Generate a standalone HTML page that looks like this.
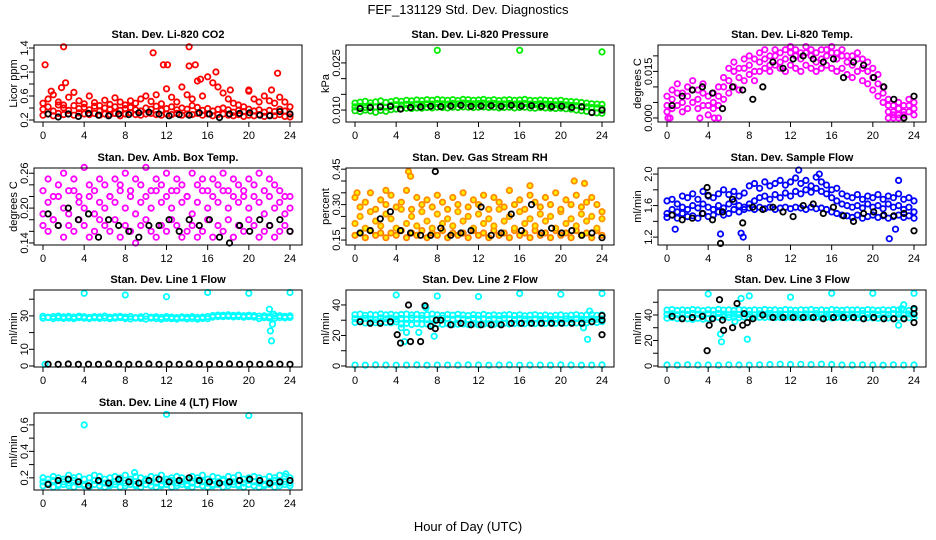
<!DOCTYPE html>
<html><head><meta charset="utf-8"><title>FEF_131129 Std. Dev. Diagnostics</title>
<style>
html,body{margin:0;padding:0;background:#fff;}
svg{display:block;font-family:"Liberation Sans",Arial,sans-serif;}
</style></head>
<body>
<svg id="chart" width="936" height="540" viewBox="0 0 936 540" xmlns="http://www.w3.org/2000/svg">
<text x="468" y="14" font-size="13" text-anchor="middle">FEF_131129  Std. Dev. Diagnostics</text>
<text x="468" y="531" font-size="13" text-anchor="middle">Hour of Day (UTC)</text>
</svg>
<script>
// ---- Panel 1: CO2 ----
const co2Mid=[0.38,0.42,0.35,0.45,0.40,0.36,0.44,0.39,0.41,0.37,0.43,0.35,0.40,0.38,0.42,0.36,0.39,0.41,0.37,0.35,0.40,0.38,0.43,0.36,0.39,0.42,0.37,0.40,0.38,0.44,0.41,0.36,0.39,0.35,0.38,0.40,0.37,0.33,0.36,0.34,0.38,0.35,0.37,0.33,0.36,0.34,0.38,0.35,0.30];
const co2Low=[0.28,0.30,0.27,0.31,0.29,0.30,0.28,0.32,0.30,0.29,0.31,0.28,0.30,0.29,0.31,0.27,0.30,0.32,0.29,0.28,0.30,0.31,0.29,0.28,0.30,0.29,0.31,0.28,0.30,0.29,0.31,0.28,0.30,0.27,0.29,0.30,0.28,0.27,0.29,0.26,0.28,0.27,0.29,0.26,0.28,0.27,0.29,0.26,0.25];
const co2High=[0.48,0.55,0.62,0.50,0.45,0.58,0.66,0.52,0.47,0.60,0.49,0.44,0.53,0.46,0.57,0.50,0.45,0.52,0.48,0.55,0.60,0.51,0.62,0.47,0.72,0.58,0.50,0.75,0.62,0.55,0.85,0.60,0.92,0.82,0.75,0.65,0.55,0.48,0.45,0.42,0.68,0.55,0.50,0.60,0.52,0.48,0.58,0.50,0.42];
const co2OutX=[0.2,2,2.2,1.8,0.8,10.7,11.7,12.1,14.2,14.2,14.8,16.8,22.8,15.3,18.2,20,22.2];
const co2OutY=[1.12,1.42,0.82,0.74,0.68,1.32,1.12,1.12,1.42,1.10,1.12,1.0,0.98,0.88,0.7,0.7,0.7];
const co2Black=[0.30,0.25,0.30,0.26,0.31,0.28,0.27,0.30,0.29,0.32,0.33,0.30,0.27,0.29,0.28,0.32,0.30,0.24,0.30,0.31,0.32,0.28,0.27,0.34,0.30];
// ---- Panel 2: Pressure ----
const presMid=[0.0110,0.0112,0.0108,0.0113,0.0110,0.0112,0.0109,0.0115,0.0117,0.0116,0.0118,0.0117,0.0119,0.0118,0.0120,0.0119,0.0121,0.0120,0.0119,0.0121,0.0120,0.0122,0.0121,0.0120,0.0121,0.0122,0.0120,0.0121,0.0119,0.0120,0.0121,0.0119,0.0120,0.0121,0.0119,0.0118,0.0120,0.0119,0.0118,0.0117,0.0118,0.0116,0.0115,0.0114,0.0112,0.0110,0.0108,0.0107,0.0105];
const presLow=[0.0098,0.0095,0.0100,0.0097,0.0093,0.0099,0.0096,0.0101,0.0103,0.0104,0.0106,0.0105,0.0107,0.0106,0.0108,0.0107,0.0109,0.0108,0.0107,0.0109,0.0108,0.0110,0.0109,0.0108,0.0109,0.0110,0.0108,0.0109,0.0107,0.0108,0.0109,0.0107,0.0108,0.0109,0.0107,0.0106,0.0108,0.0107,0.0106,0.0105,0.0106,0.0104,0.0103,0.0100,0.0098,0.0096,0.0093,0.0091,0.0090];
const presHigh=[0.0122,0.0125,0.0128,0.0123,0.0126,0.0129,0.0124,0.0127,0.0130,0.0128,0.0131,0.0129,0.0132,0.0130,0.0133,0.0131,0.0134,0.0132,0.0131,0.0133,0.0130,0.0134,0.0133,0.0131,0.0132,0.0134,0.0131,0.0133,0.0130,0.0132,0.0133,0.0131,0.0132,0.0134,0.0131,0.0130,0.0132,0.0131,0.0130,0.0129,0.0131,0.0128,0.0127,0.0126,0.0124,0.0122,0.0120,0.0119,0.0118];
const presOutX=[8,16,24];
const presOutY=[0.029,0.029,0.0285];
const presBlack=[0.0105,0.0108,0.0110,0.0112,0.0103,0.0108,0.0110,0.0112,0.0111,0.0113,0.0115,0.0112,0.0113,0.0114,0.0112,0.0115,0.0113,0.0114,0.0112,0.0111,0.0112,0.0108,0.0110,0.0092,0.0100];
// ---- Panel 3: Li-820 Temp ----
const tempMid=[0.004,0.006,0.008,0.005,0.007,0.009,0.006,0.008,0.004,0.005,0.007,0.010,0.012,0.015,0.013,0.016,0.017,0.015,0.018,0.019,0.017,0.020,0.018,0.019,0.021,0.020,0.019,0.021,0.020,0.018,0.019,0.020,0.021,0.019,0.020,0.018,0.017,0.019,0.016,0.015,0.013,0.011,0.008,0.004,0.002,0.003,0.002,0.004,0.003];
const tempLow=[0.002,0.003,0.004,0.002,0.003,0.005,0.003,0.004,0.001,0.003,0.004,0.006,0.008,0.010,0.009,0.012,0.014,0.012,0.015,0.016,0.015,0.017,0.016,0.015,0.017,0.016,0.015,0.017,0.016,0.015,0.016,0.017,0.016,0.015,0.016,0.014,0.013,0.015,0.012,0.011,0.009,0.007,0.005,0.002,0.001,0.001,0.001,0.002,0.001];
const tempHigh=[0.007,0.009,0.011,0.008,0.010,0.012,0.009,0.011,0.007,0.008,0.010,0.013,0.016,0.018,0.016,0.019,0.020,0.019,0.021,0.022,0.020,0.022,0.021,0.022,0.023,0.022,0.021,0.023,0.022,0.021,0.022,0.022,0.023,0.021,0.022,0.020,0.020,0.021,0.019,0.018,0.016,0.014,0.010,0.006,0.004,0.005,0.004,0.006,0.005];
const tempOutX=[0.1,0.3,3.2,4.6,5.0,21.5,22,22.5,23];
const tempOutY=[0,0,0,0,0,0,0,0,0];
const tempBlack=[0.004,0.007,0.009,0.010,0.008,0.003,0.010,0.009,0.006,0.010,0.018,0.016,0.019,0.020,0.019,0.018,0.019,0.013,0.018,0.017,0.013,0.010,0.006,0.000,0.007];
// ---- Panel 4: Amb Box Temp ----
const boxMid=[0.19,0.21,0.18,0.22,0.20,0.19,0.23,0.21,0.20,0.22,0.19,0.21,0.20,0.22,0.21,0.23,0.20,0.22,0.19,0.21,0.22,0.20,0.23,0.21,0.22,0.20,0.23,0.21,0.22,0.19,0.21,0.23,0.20,0.22,0.21,0.23,0.20,0.22,0.21,0.23,0.20,0.22,0.21,0.19,0.22,0.20,0.21,0.19,0.20];
const boxLow=[0.17,0.16,0.18,0.17,0.15,0.17,0.16,0.18,0.17,0.15,0.16,0.18,0.17,0.16,0.18,0.15,0.17,0.16,0.14,0.17,0.18,0.16,0.15,0.17,0.16,0.18,0.17,0.15,0.16,0.17,0.15,0.16,0.18,0.15,0.17,0.16,0.18,0.15,0.17,0.16,0.18,0.17,0.15,0.16,0.17,0.15,0.16,0.17,0.16];
const boxHigh=[0.23,0.25,0.22,0.24,0.26,0.23,0.25,0.22,0.27,0.24,0.23,0.25,0.24,0.22,0.25,0.24,0.26,0.23,0.25,0.24,0.27,0.23,0.25,0.24,0.26,0.23,0.25,0.24,0.22,0.26,0.24,0.25,0.23,0.25,0.24,0.26,0.23,0.25,0.24,0.22,0.25,0.24,0.26,0.23,0.25,0.24,0.23,0.22,0.22];
const boxBlack=[0.19,0.17,0.20,0.18,0.19,0.15,0.18,0.17,0.16,0.15,0.17,0.17,0.18,0.16,0.18,0.17,0.18,0.15,0.14,0.17,0.16,0.18,0.17,0.18,0.16];
// ---- Panel 5: Gas Stream RH ----
const rhMid=[0.22,0.25,0.20,0.27,0.23,0.21,0.26,0.24,0.20,0.28,0.22,0.25,0.21,0.27,0.23,0.20,0.26,0.22,0.24,0.21,0.27,0.23,0.25,0.20,0.26,0.22,0.24,0.21,0.28,0.23,0.25,0.20,0.27,0.22,0.24,0.21,0.26,0.23,0.25,0.20,0.27,0.22,0.24,0.21,0.26,0.23,0.25,0.20,0.24];
const rhLow=[0.17,0.18,0.16,0.19,0.17,0.18,0.16,0.18,0.17,0.19,0.16,0.18,0.17,0.19,0.16,0.18,0.17,0.19,0.16,0.18,0.17,0.18,0.16,0.19,0.17,0.18,0.16,0.19,0.17,0.18,0.16,0.19,0.17,0.18,0.16,0.19,0.17,0.18,0.16,0.19,0.17,0.18,0.16,0.19,0.17,0.18,0.16,0.19,0.17];
const rhHigh=[0.33,0.29,0.31,0.35,0.28,0.32,0.30,0.34,0.29,0.31,0.36,0.28,0.33,0.30,0.32,0.29,0.34,0.31,0.28,0.33,0.30,0.35,0.29,0.32,0.30,0.34,0.28,0.33,0.31,0.29,0.36,0.30,0.32,0.28,0.34,0.31,0.29,0.33,0.30,0.35,0.28,0.32,0.30,0.34,0.29,0.31,0.33,0.30,0.27];
const rhOutX=[5.2,5.4,21.3,22.3,17,0.2,3];
const rhOutY=[0.44,0.42,0.40,0.39,0.38,0.35,0.36];
const rhBlack=[0.18,0.19,0.24,0.27,0.19,0.18,0.17,0.17,0.20,0.17,0.18,0.19,0.29,0.17,0.18,0.26,0.19,0.30,0.18,0.20,0.18,0.19,0.17,0.18,0.16];
const rhBlackOutX=[7.8];
const rhBlackOutY=[0.44];
// ---- Panel 6: Sample Flow ----
const sfMid=[1.50,1.55,1.52,1.58,1.55,1.60,1.57,1.62,1.58,1.55,1.60,1.57,1.62,1.65,1.60,1.58,1.62,1.66,1.70,1.72,1.68,1.74,1.70,1.76,1.72,1.78,1.75,1.80,1.77,1.82,1.78,1.75,1.70,1.66,1.62,1.60,1.58,1.60,1.57,1.62,1.58,1.60,1.56,1.62,1.58,1.60,1.55,1.58,1.52];
const sfLow=[1.45,1.48,1.44,1.50,1.46,1.47,1.44,1.50,1.46,1.48,1.52,1.48,1.50,1.55,1.52,1.55,1.57,1.55,1.58,1.56,1.58,1.55,1.57,1.58,1.56,1.58,1.57,1.55,1.58,1.56,1.57,1.55,1.52,1.50,1.48,1.47,1.45,1.48,1.44,1.46,1.48,1.45,1.47,1.44,1.46,1.48,1.45,1.47,1.44];
const sfHigh=[1.66,1.68,1.62,1.72,1.70,1.75,1.68,1.78,1.72,1.70,1.75,1.80,1.74,1.78,1.72,1.76,1.85,1.88,1.82,1.90,1.85,1.88,1.92,1.86,1.90,1.95,1.88,1.92,1.85,1.96,1.90,1.86,1.80,1.82,1.75,1.72,1.70,1.74,1.68,1.72,1.70,1.74,1.68,1.72,1.70,1.75,1.68,1.70,1.66];
const sfOutX=[0.8,5.2,7.4,7.2,21.6,22.2,12.8,14.8,22.5];
const sfOutY=[1.3,1.24,1.2,1.25,1.18,1.3,2.05,2.0,1.92];
const sfBlack=[1.48,1.42,1.44,1.50,1.42,1.52,1.68,1.38,1.58,1.55,1.58,1.52,1.46,1.60,1.62,1.50,1.58,1.47,1.40,1.50,1.52,1.48,1.47,1.50,1.28];
const sfBlackOutX=[4,3.9,5.2];
const sfBlackOutY=[1.73,1.83,1.12];
// ---- Panel 7: Line 1 Flow ----
const l1High=[29.8,29.2,29.6,29.9,29.4,29.7,29.3,29.8,29.5,29.1,29.6,29.4,29.9,29.2,29.5,29.7,29.3,29.6,29.0,29.4,29.8,29.2,29.5,29.1,29.6,29.3,29.0,29.4,29.2,29.5,29.1,29.3,29.6,30.2,30.5,30.4,30.6,30.3,30.5,30.1,30.4,30.2,29.8,30.0,29.6,29.9,30.1,29.7,30.0];
const l1Low=[28.6,28.9,28.4,28.8,28.5,28.7,28.3,28.9,28.6,28.4,28.8,28.5,28.7,28.3,28.6,28.9,28.4,28.2,28.7,28.5,28.1,28.6,28.4,28.0,28.5,28.3,28.1,28.6,28.2,28.4,28.0,28.5,28.3,29.3,29.6,29.5,29.7,29.4,29.6,29.2,29.5,29.3,28.4,28.9,28.7,28.5,29.0,28.8,29.1];
const l1OutX=[0.2,4,8,12,16,20,24,22,22.1,22.2,22.3,22.4];
const l1OutY=[1.0,43.5,42.5,41.5,44,43.5,44,34,21,15,25,31];
const l1Black=[1.1,1.0,1.2,1.0,1.1,1.0,1.2,1.1,1.0,1.1,1.2,1.0,1.1,1.0,1.2,1.1,1.0,1.1,1.2,1.0,1.1,1.0,1.2,1.1,1.0];
// ---- Panel 8: Line 2 Flow ----
const l2Top=[33.6,34.0,33.2,33.8,33.4,34.1,33.5,33.9,33.3,33.7,34.0,33.4,33.8,33.2,33.6,34.0,33.5,33.1,33.7,33.3,33.9,33.4,33.0,33.6,33.2,33.8,33.1,33.5,33.0,33.4,33.7,33.1,33.5,32.9,33.3,33.6,33.0,33.4,32.8,33.2,33.5,32.9,33.3,33.6,33.0,33.4,33.7,33.2,33.5];
const l2Mid=[31.0,30.5,31.2,30.8,30.4,31.5,30.9,31.3,30.7,31.1,30.6,31.4,30.8,31.2,30.5,31.0,30.7,31.3,30.9,30.6,31.1,30.8,30.5,31.2,30.7,31.0,30.4,30.9,30.6,31.1,30.8,30.5,31.0,30.7,30.4,30.9,30.6,31.0,30.5,30.8,30.4,30.9,30.6,31.0,30.7,30.5,30.9,30.6,30.8];
const l2Low=[28.5,29.0,28.2,28.8,28.4,29.1,28.6,28.3,28.9,27.5,28.0,27.2,27.8,27.4,27.6,27.0,27.5,27.3,27.8,27.1,27.4,27.6,27.2,27.5,27.0,27.4,27.7,27.3,27.6,27.9,27.5,27.8,28.0,27.7,28.1,27.8,28.2,27.9,28.3,28.0,28.4,28.1,28.5,28.2,28.6,28.3,28.8,28.5,29.0];
const l2Floor=[0.6,0.5,0.7,0.6,0.5,0.6,0.7,0.5,0.6,0.6,0.5,0.7,0.6,0.5,0.6,0.7,0.5,0.6,0.6,0.5,0.7,0.6,0.5,0.6,0.7];
const l2OutX=[4,8,12,16,20,24,4.5,5,6.2,7.7,22.6,22.8,22.2,4.8,6.8,6.9];
const l2OutY=[46.5,45.8,45.5,47.5,47,47.5,25,22,22,19.5,17.5,36,25,16,39,38];
const l2Black=[29,28,28,29,15,16,16,26,30,27,28,27,27,27,27,28,28,28,28,28,28,28,28,29,33];
const l2BlackOutX=[4.1,5.2,6.8,7.8,7.9,24,24];
const l2BlackOutY=[20.5,40,39.5,24.5,30,20.5,30];
// ---- Panel 9: Line 3 Flow ----
const l3Top=[43.8,44.2,43.5,44.0,43.6,44.3,43.9,43.4,44.1,43.7,44.4,43.8,44.0,43.5,44.2,43.9,43.6,44.1,43.7,44.3,43.8,44.0,43.5,44.2,43.9,43.6,44.1,43.8,44.3,43.7,44.0,43.5,44.2,43.9,43.6,44.1,43.8,44.0,43.5,44.2,43.9,43.6,44.1,43.7,44.3,43.8,44.0,43.5,44.0];
const l3Mid=[40.5,41.0,40.2,40.8,40.4,41.2,40.6,40.1,40.9,40.3,41.1,40.7,40.2,40.8,40.4,41.0,40.6,40.1,40.9,40.5,41.2,40.3,40.8,40.4,41.0,40.6,40.2,40.9,40.5,41.1,40.3,40.7,40.4,41.0,40.6,40.2,40.8,40.4,41.1,40.5,40.9,40.3,40.7,40.4,41.0,40.6,40.2,40.8,40.5];
const l3Low=[37.5,38.0,37.2,37.8,37.0,36.5,37.4,36.8,37.2,37.6,38.2,38.5,38.0,38.3,37.9,38.4,38.1,37.8,38.2,38.0,38.3,37.9,38.1,37.8,38.2,38.0,37.7,38.1,37.9,38.2,37.8,38.0,37.7,38.1,37.9,37.6,38.0,37.8,37.5,37.9,37.7,37.4,37.8,37.6,37.3,37.7,37.5,37.9,38.0];
const l3Floor=[0.8,0.6,0.9,0.7,0.8,0.6,0.9,0.8,0.7,0.9,1.2,1.4,1.2,1.3,1.1,1.4,1.2,0.8,0.7,0.9,0.8,0.6,0.9,0.7,0.8];
const l3OutX=[4,8,12,16,20,24,5.3,5.2,7.8,22.5,23,22.8,6.6,7.2];
const l3OutY=[56.5,55,54,57,57,57,19,25,21,32,48,45,35,53];
const l3Black=[39,37,38,39,37,36,30,32,37,40,38,38,38,38,38,37,38,38,38,37,38,37,37,37,41];
const l3BlackOutX=[3.9,4.1,5.1,5.5,6.8,7.5,7.8,24,24];
const l3BlackOutY=[12,32,52,28,49,41,34,45,34];
// ---- Panel 10: Line 4 (LT) Flow ----
const l4Mid=[0.17,0.16,0.18,0.15,0.17,0.16,0.18,0.17,0.15,0.16,0.18,0.17,0.16,0.15,0.17,0.18,0.16,0.17,0.15,0.16,0.18,0.17,0.16,0.15,0.17,0.18,0.16,0.17,0.15,0.16,0.18,0.17,0.16,0.15,0.17,0.18,0.16,0.17,0.15,0.16,0.18,0.17,0.16,0.15,0.17,0.18,0.16,0.17,0.16];
const l4High=[0.20,0.19,0.21,0.20,0.19,0.22,0.20,0.21,0.19,0.20,0.22,0.21,0.19,0.20,0.21,0.20,0.22,0.19,0.21,0.20,0.19,0.21,0.20,0.22,0.19,0.20,0.21,0.20,0.19,0.21,0.20,0.22,0.19,0.21,0.20,0.19,0.21,0.20,0.22,0.19,0.20,0.21,0.20,0.19,0.21,0.20,0.22,0.21,0.20];
const l4Low=[0.14,0.15,0.13,0.14,0.15,0.14,0.13,0.15,0.14,0.13,0.15,0.14,0.13,0.14,0.15,0.13,0.14,0.15,0.14,0.13,0.15,0.14,0.13,0.14,0.15,0.13,0.14,0.15,0.14,0.13,0.15,0.14,0.13,0.14,0.15,0.13,0.14,0.15,0.14,0.13,0.15,0.14,0.13,0.14,0.15,0.13,0.14,0.15,0.14];
const l4OutX=[4,12,20,8.9,23.6];
const l4OutY=[0.6,0.68,0.67,0.24,0.23];
const l4Black=[0.15,0.18,0.19,0.17,0.14,0.18,0.16,0.19,0.17,0.16,0.18,0.19,0.17,0.18,0.20,0.18,0.17,0.16,0.17,0.18,0.19,0.18,0.16,0.17,0.18];
// ---- Axis tick arrays ----
const xTicks=[0,4,8,12,16,20,24];

const NS="http://www.w3.org/2000/svg";
const svg=document.getElementById('chart');
function mk(tag,attrs,parent){const e=document.createElementNS(NS,tag);for(const k in attrs)e.setAttribute(k,attrs[k]);(parent||svg).appendChild(e);return e;}

const panels=[
 {title:"Stan. Dev. Li-820 CO2",ylab:"Licor ppm",c:0,r:0,ymin:0.167,ymax:1.45,ticks:[0.2,0.4,0.6,0.8,1.0,1.2,1.4],labels:{"0.2":"0.2","0.6":"0.6","1":"1.0","1.4":"1.4"},
  series:[[co2Low,"#ff0000"],[co2Mid,"#ff0000"],[co2High,"#ff0000"]],outs:[[co2OutX,co2OutY,"#ff0000"]],black:co2Black,bouts:null},
 {title:"Stan. Dev. Li-820 Pressure",ylab:"kPa",c:1,r:0,ymin:0.0062,ymax:0.0307,ticks:[0.010,0.015,0.020,0.025],labels:{"0.01":"0.010","0.025":"0.025"},
  series:[[presLow,"#00dd00"],[presMid,"#00ee00"],[presHigh,"#00ee00"]],outs:[[presOutX,presOutY,"#00ee00"]],black:presBlack,bouts:null},
 {title:"Stan. Dev. Li-820 Temp.",ylab:"degrees C",c:2,r:0,ymin:-0.0013,ymax:0.0235,ticks:[0,0.005,0.010,0.015,0.020],labels:{"0":"0.000","0.015":"0.015"},
  series:[[tempLow,"#ff00ff"],[tempMid,"#ff00ff"],[tempHigh,"#ff00ff"]],outs:[[tempOutX,tempOutY,"#ff00ff"]],black:tempBlack,bouts:null},
 {title:"Stan. Dev. Amb. Box Temp.",ylab:"degrees C",c:0,r:1,ymin:0.1365,ymax:0.269,ticks:[0.14,0.16,0.18,0.20,0.22,0.24,0.26],labels:{"0.14":"0.14","0.2":"0.20","0.26":"0.26"},
  series:[[boxLow,"#ff00ff"],[boxMid,"#ff00ff"],[boxHigh,"#ff00ff"]],outs:[],black:boxBlack,bouts:null},
 {title:"Stan. Dev. Gas Stream RH",ylab:"percent",c:1,r:1,ymin:0.129,ymax:0.455,ticks:[0.15,0.20,0.25,0.30,0.35,0.40,0.45],labels:{"0.15":"0.15","0.3":"0.30","0.45":"0.45"},fill:"#ffee00",
  series:[[rhLow,"#ff8000"],[rhMid,"#ff9900"],[rhHigh,"#ff8c00"]],outs:[[rhOutX,rhOutY,"#ff8c00"]],black:rhBlack,bouts:[rhBlackOutX,rhBlackOutY]},
 {title:"Stan. Dev. Sample Flow",ylab:"ml/min",c:2,r:1,ymin:1.10,ymax:2.077,ticks:[1.2,1.4,1.6,1.8,2.0],labels:{"1.2":"1.2","1.6":"1.6","2":"2.0"},
  series:[[sfLow,"#0000ff"],[sfMid,"#0000ff"],[sfHigh,"#0000ff"]],outs:[[sfOutX,sfOutY,"#0000ff"]],black:sfBlack,bouts:[sfBlackOutX,sfBlackOutY]},
 {title:"Stan. Dev. Line 1 Flow",ylab:"ml/min",c:0,r:2,ymin:-0.6,ymax:45.5,ticks:[0,10,20,30,40],labels:{"0":"0","10":"10","30":"30"},
  series:[[l1Low,"#00ffff"],[l1High,"#00ffff"]],outs:[[l1OutX,l1OutY,"#00ffff"]],black:l1Black,bouts:null},
 {title:"Stan. Dev. Line 2 Flow",ylab:"ml/min",c:1,r:2,ymin:-0.66,ymax:49.8,ticks:[0,10,20,30,40],labels:{"0":"0","20":"20","40":"40"},
  series:[[l2Floor,"#00ffff"],[l2Low,"#00ffff"],[l2Mid,"#00ffff"],[l2Top,"#00ffff"]],outs:[[l2OutX,l2OutY,"#00ffff"]],black:l2Black,bouts:[l2BlackOutX,l2BlackOutY]},
 {title:"Stan. Dev. Line 3 Flow",ylab:"ml/min",c:2,r:2,ymin:-0.8,ymax:59.6,ticks:[0,10,20,30,40,50],labels:{"0":"0","20":"20","40":"40"},
  series:[[l3Floor,"#00ffff"],[l3Low,"#00ffff"],[l3Mid,"#00ffff"],[l3Top,"#00ffff"]],outs:[[l3OutX,l3OutY,"#00ffff"]],black:l3Black,bouts:[l3BlackOutX,l3BlackOutY]},
 {title:"Stan. Dev. Line 4 (LT) Flow",ylab:"ml/min",c:0,r:3,ymin:0.108,ymax:0.69,ticks:[0.2,0.3,0.4,0.5,0.6],labels:{"0.2":"0.2","0.4":"0.4","0.6":"0.6"},
  series:[[l4Low,"#00ffff"],[l4Mid,"#00ffff"],[l4High,"#00ffff"]],outs:[[l4OutX,l4OutY,"#00ffff"]],black:l4Black,bouts:null}
];

panels.forEach((p,pi)=>{
  const L=34+312*p.c, R=L+268, T=Math.round(45+122.7*p.r), B=T+77;
  const xs=v=>L+9+v*(247/24);
  const ys=v=>B-(v-p.ymin)/(p.ymax-p.ymin)*(B-T);
  const g=mk('g',{});
  
  
  const t=mk('text',{x:(L+R)/2,y:T-7,'font-size':11,'font-weight':'bold','text-anchor':'middle'},g);
  t.textContent=p.title;
  
  
  const yl=mk('text',{x:0,y:0,'font-size':11,'text-anchor':'middle',transform:`translate(${L-17},${(T+B)/2}) rotate(-90)`},g);
  yl.textContent=p.ylab;
  
  
  const pts=mk('g',{fill:'none','stroke-width':1.8},g);
  
  
  function dot(x,y,col,name,fill){
    const c=mk('circle',{cx:xs(x).toFixed(1),cy:ys(y).toFixed(1),r:2.7,stroke:col,fill:fill||'none'},pts);
    
    
  }
  p.series.forEach(([vals,col])=>{vals.forEach((v,i)=>dot(i*24/(vals.length-1),v,col,'series-point',p.fill));});
  p.outs.forEach(([ox,oy,col])=>{ox.forEach((x,i)=>dot(x,oy[i],col,'outlier-point',p.fill));});
  p.black.forEach((v,i)=>dot(0.5+i*23.5/(p.black.length-1),v,'#000','black-point'));
  if(p.bouts)p.bouts[0].forEach((x,i)=>dot(x,p.bouts[1][i],'#000','black-outlier'));
  const box=mk('rect',{x:L,y:T,width:R-L,height:B-T,fill:'none',stroke:'#000','stroke-width':1},g);
  
  
  mk('line',{x1:xs(0),x2:xs(24),y1:B,y2:B,stroke:'#000'},g);
  xTicks.forEach(v=>{
    mk('line',{x1:xs(v),x2:xs(v),y1:B,y2:B+5,stroke:'#000'},g);
    const tl=mk('text',{x:xs(v),y:B+17,'font-size':11,'text-anchor':'middle'},g);
    tl.textContent=v;
    
    
  });
  mk('line',{x1:L,x2:L,y1:ys(p.ticks[0]),y2:ys(p.ticks[p.ticks.length-1]),stroke:'#000'},g);
  p.ticks.forEach(v=>{
    const y=ys(v);
    mk('line',{x1:L-5,x2:L,y1:y,y2:y,stroke:'#000'},g);
    const key=String(+v.toFixed(4));
    if(p.labels[key]!==undefined){
      const tl=mk('text',{x:0,y:0,'font-size':11,'text-anchor':'middle',transform:`translate(${L-6},${y}) rotate(-90)`},g);
      tl.textContent=p.labels[key];
      
      
    }
  });
});
</script>
</body></html>
